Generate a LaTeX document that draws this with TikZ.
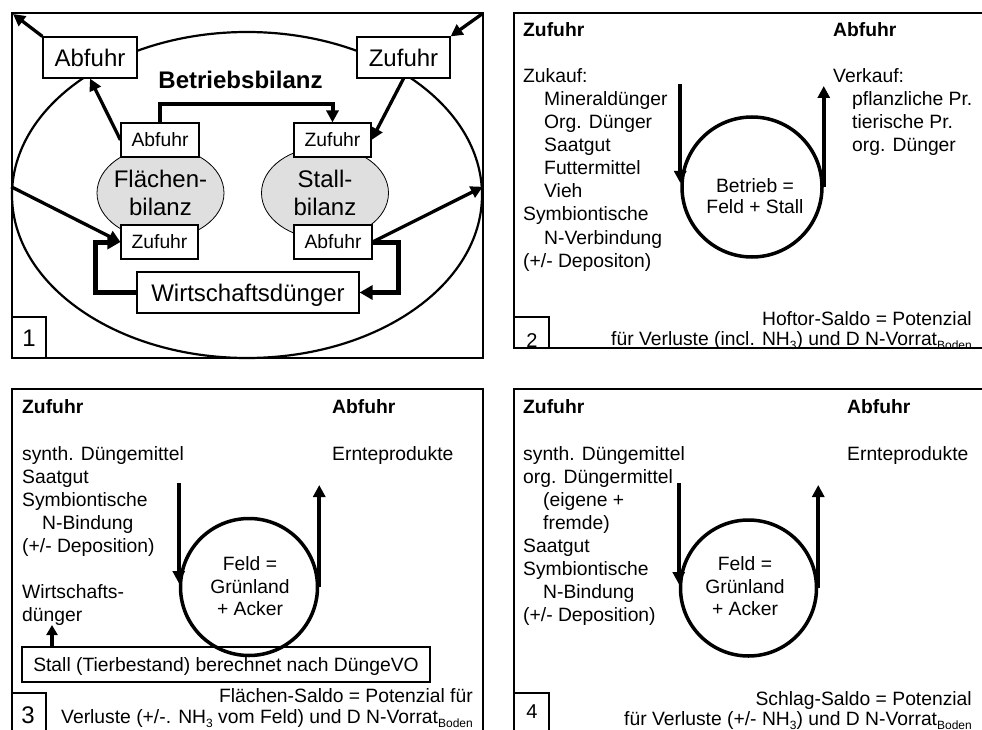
\documentclass[tikz,border=0pt]{standalone}
\usepackage{fontspec}
\setmainfont{Liberation Sans}
\usetikzlibrary{arrows.meta,shapes.geometric,calc}
\newcommand\mysub[1]{\raisebox{-4pt}{\fontsize{12}{12}\selectfont #1}}
\begin{document}
\begin{tikzpicture}[x=1pt,y=-1pt,
  frame/.style={line width=1.3pt},
  t/.style={font=\fontsize{19.3}{23}\selectfont, inner sep=0pt, anchor=base west},
  tb/.style={t, font=\fontsize{19.3}{23}\selectfont\bfseries},
  tr/.style={t, anchor=base east},
  tc/.style={t, anchor=base},
  bigbox/.style={draw, fill=white, line width=1.2pt, inner sep=0pt, font=\fontsize{24}{28}\selectfont, text height=17.2pt, text depth=0pt, minimum height=41pt},
  smallbox/.style={draw, fill=white, line width=1.1pt, inner sep=0pt, font=\fontsize{19.3}{23}\selectfont, text height=13.8pt, text depth=0pt, minimum height=34pt},
  numbox/.style={draw, line width=1.1pt, inner sep=0pt},
  arr/.style={line width=3.3pt, -{Triangle[length=12pt,width=12pt]}},
  arrk/.style={line width=5pt, -{Triangle[length=13pt,width=14pt]}},
  ring/.style={circle, draw, line width=3.5pt, inner sep=0pt},
  bil/.style={ellipse, draw, fill=gray!25, line width=0.8pt, inner sep=0pt, minimum width=127pt, minimum height=92pt},
]
\useasboundingbox (0,0) rectangle (982,730);
\fill[white] (0,0) rectangle (982,730);

% ---------------- Panel 1 ----------------
\draw[frame] (12,13) rectangle (483,358);
\node[ellipse, draw, line width=2.2pt, minimum width=470pt, minimum height=326pt, inner sep=0pt] (bigE) at (247,195) {};
\node[bil] (fl) at (160.5,193) {};
\node[bil] (st) at (325,193) {};
\node[font=\fontsize{24}{28}\selectfont, align=center, inner sep=0pt] (flt) at (160.5,193) {Flächen-\\bilanz};
\node[font=\fontsize{24}{28}\selectfont, align=center, inner sep=0pt] (stt) at (325,193) {Stall-\\bilanz};
\node[bigbox, minimum width=94pt] (babf) at (90,57.5) {Abfuhr};
\node[bigbox, minimum width=93pt] (bzuf) at (403.5,57.5) {Zufuhr};
\node[smallbox, minimum width=78pt] (sabfA) at (160,140) {Abfuhr};
\node[smallbox, minimum width=77pt] (szufA) at (332.5,140) {Zufuhr};
\node[smallbox, minimum width=77pt] (szufB) at (159.5,242) {Zufuhr};
\node[smallbox, minimum width=78pt] (sabfB) at (333,242) {Abfuhr};
\node[bigbox, minimum width=222pt] (wd) at (248,292.5) {Wirtschaftsdünger};
\node[bigbox, minimum width=34pt] (n1) at (29,337.5) {1};
\node[t, font=\fontsize{24}{28}\selectfont\bfseries, anchor=base] (bb) at (240.5,89) {Betriebsbilanz};

\coordinate (cTL) at (13,14);
\coordinate (cTR) at (482,14);
\draw[arr] (babf.north west) -- (cTL);
\draw[arr] (cTR) -- (bzuf.north east);
\draw[arr] (sabfA.west) -- (babf.south);
\draw[arr] (bzuf.south) -- (szufA.east);
\draw[line width=4pt, -{Triangle[length=12pt,width=12pt]}] (sabfA.north) -- ++(0,-18) -| (szufA.north);
\draw[arr] (bigE.178) -- (szufB.west);
\draw[arr] (sabfB.east) -- (bigE.2);
\draw[arrk] (wd.west) -- ++(-41,0) |- (szufB.west);
\draw[arrk] (sabfB.east) -- ++(26,0) |- (wd.east);

% ---------------- Panel 2 ----------------
\draw[frame] (995,13) -- (514,13) -- (514,348) -- (995,348);
\node[numbox, minimum width=35pt, minimum height=31pt] (n2) at (531.5,332.5) {};
\node[t, font=\fontsize{20}{24}\selectfont, anchor=base] (n2t) at (532,347) {2};
\node[tb] (z2) at (523,37) {Zufuhr};
\node[tb] (a2) at (833,37) {Abfuhr};
\node[t] (l2a) at (523,83) {Zukauf:};
\node[t] (l2b) at (544,106) {Mineraldünger};
\node[t] (l2c) at (544,129) {Org. Dünger};
\node[t] (l2d) at (544,152) {Saatgut};
\node[t] (l2e) at (544,175) {Futtermittel};
\node[t] (l2f) at (544,198) {Vieh};
\node[t] (l2g) at (523,221) {Symbiontische};
\node[t] (l2h) at (544,244) {N-Verbindung};
\node[t] (l2i) at (523,267) {(+/- Depositon)};
\node[t] (r2a) at (833,83) {Verkauf:};
\node[t] (r2b) at (852,106) {pflanzliche Pr.};
\node[t] (r2c) at (852,129) {tierische Pr.};
\node[t] (r2d) at (852,152) {org. Dünger};
\node[ring, minimum size=140pt] (c2) at (752,187) {};
\coordinate (p2l) at (682,84);
\coordinate (p2r) at (823,86);
\draw[arr, line width=3.8pt] (c2.west |- p2l) -- ($(c2.west)+(0,-4)$);
\draw[arr, line width=3.8pt] (c2.east) -- (c2.east |- p2r);
\node[tc] (b2a) at (755,193) {Betrieb =};
\node[tc] (b2b) at (755,213) {Feld + Stall};
\node[tr] (s2a) at (972,325) {Hoftor-Saldo = Potenzial};
\node[tr] (s2b) at (972,345) {für Verluste (incl. NH\mysub{3}) und D N-Vorrat\mysub{Boden}};

% ---------------- Panel 3 ----------------
\draw[frame] (12,735) -- (12,389) -- (483,389) -- (483,735);
\node[numbox, minimum width=34pt, minimum height=45pt] (n3) at (29,715.5) {};
\node[t, font=\fontsize{24}{28}\selectfont, anchor=base] (n3t) at (28,723) {3};
\node[tb] (z3) at (22,413) {Zufuhr};
\node[tb] (a3) at (332,413) {Abfuhr};
\node[t] (l3a) at (22,460) {synth. Düngemittel};
\node[t] (l3b) at (22,483) {Saatgut};
\node[t] (l3c) at (22,506) {Symbiontische};
\node[t] (l3d) at (42,529) {N-Bindung};
\node[t] (l3e) at (22,552) {(+/- Deposition)};
\node[t] (l3f) at (22,598) {Wirtschafts-};
\node[t] (l3g) at (22,621) {dünger};
\node[t] (r3a) at (332,460) {Ernteprodukte};
\node[ring, minimum size=137pt] (c3) at (249,587) {};
\coordinate (p3l) at (180,483);
\coordinate (p3r) at (317,485);
\draw[arr, line width=3.8pt] (c3.west |- p3l) -- ($(c3.west)+(0,-4)$);
\draw[arr, line width=3.8pt] (c3.east) -- (c3.east |- p3r);
\node[tc] (f3a) at (250,570) {Feld =};
\node[tc] (f3b) at (250,593) {Grünland};
\node[tc] (f3c) at (250,615) {+ Acker};
\node[draw, line width=1.1pt, inner sep=0pt, minimum width=408pt, minimum height=35pt, font=\fontsize{19.3}{23}\selectfont, text height=13.8pt, text depth=0pt] (stall) at (226,664.5) {Stall (Tierbestand) berechnet nach DüngeVO};
\coordinate (p3w) at (52,625);
\draw[line width=3.8pt, -{Triangle[length=10pt,width=11pt]}] (stall.north -| p3w) -- (p3w);
\node[tr] (s3a) at (473,702) {Flächen-Saldo = Potenzial für};
\node[tr] (s3b) at (473,723) {Verluste (+/-. NH\mysub{3} vom Feld) und D N-Vorrat\mysub{Boden}};

% ---------------- Panel 4 ----------------
\draw[frame] (995,389) -- (514,389) -- (514,735);
\node[numbox, minimum width=35pt, minimum height=45pt] (n4) at (531.5,715.5) {};
\node[t, font=\fontsize{20}{24}\selectfont, anchor=base] (n4t) at (532,718) {4};
\node[tb] (z4) at (523,413) {Zufuhr};
\node[tb] (a4) at (847,413) {Abfuhr};
\node[t] (l4a) at (523,460) {synth. Düngemittel};
\node[t] (l4b) at (523,483) {org. Düngermittel};
\node[t] (l4c) at (543,506) {(eigene +};
\node[t] (l4d) at (543,529) {fremde)};
\node[t] (l4e) at (523,552) {Saatgut};
\node[t] (l4f) at (523,575) {Symbiontische};
\node[t] (l4g) at (543,598) {N-Bindung};
\node[t] (l4h) at (523,621) {(+/- Deposition)};
\node[t] (r4a) at (847,460) {Ernteprodukte};
\node[ring, minimum size=136pt] (c4) at (748.5,588) {};
\coordinate (p4l) at (680,483);
\coordinate (p4r) at (817,485);
\draw[arr, line width=3.8pt] (c4.west |- p4l) -- ($(c4.west)+(0,-4)$);
\draw[arr, line width=3.8pt] (c4.east) -- (c4.east |- p4r);
\node[tc] (f4a) at (745,570) {Feld =};
\node[tc] (f4b) at (745,593) {Grünland};
\node[tc] (f4c) at (745,615) {+ Acker};
\node[tr] (s4a) at (972,705) {Schlag-Saldo = Potenzial};
\node[tr] (s4b) at (972,725) {für Verluste (+/- NH\mysub{3}) und D N-Vorrat\mysub{Boden}};
\end{tikzpicture}
\end{document}
